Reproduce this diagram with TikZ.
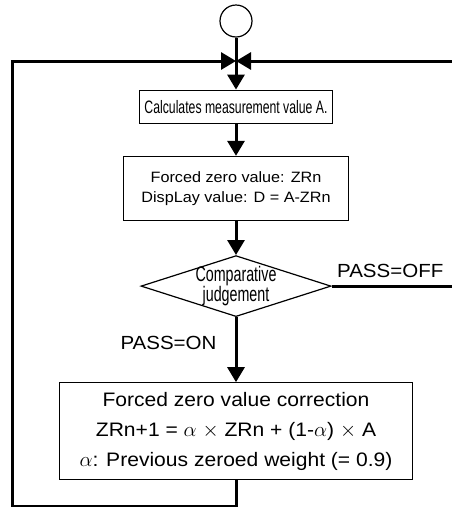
\documentclass[tikz,border=0pt]{standalone}
\usepackage{fontspec}
\setmainfont[FakeStretch=1.08]{Liberation Sans}
\newfontfamily\narrowfont[FakeStretch=0.68]{Liberation Sans}
\usetikzlibrary{arrows.meta,positioning,shapes.geometric}

\begin{document}
\begin{tikzpicture}[
    x=1pt, y=-1pt,
    flow/.style={line width=3pt, -{Triangle[length=15pt,width=17pt]}},
    wire/.style={line width=3pt},
    process/.style={draw, line width=1.2pt, align=center, inner sep=2pt},
    decision/.style={draw, diamond, aspect=3.1, line width=1.2pt, align=center, inner sep=-4pt,
        minimum width=190pt, minimum height=61pt},
    passtext/.style={font=\fontsize{19}{22}\selectfont, inner sep=4pt}
]
\useasboundingbox (0,0) rectangle (452,507);

% Start
\node[draw, circle, line width=1.2pt, minimum size=32pt, inner sep=0pt] (start) at (236,21) {};
\coordinate (join) at (236,61);
\coordinate (rightedge) at (452,0);
\coordinate (loopcorner) at (12,506);

% Measurement
\node[process, minimum width=193pt, minimum height=33pt, below=52pt of start,
    font=\narrowfont\fontsize{18}{20}\selectfont] (measure) {Calculates measurement value A.};

% Display value
\node[process, minimum width=225pt, minimum height=64pt, below=32pt of measure,
    font=\fontsize{15}{20}\selectfont] (display) {Forced zero value: ZRn\\DispLay value: D = A-ZRn};

% Judgement
\node[decision, below=34pt of display,
    font=\narrowfont\fontsize{21}{20}\selectfont] (judge) {Comparative\\judgement};

% Correction
\node[process, minimum width=353pt, minimum height=97pt, below=65pt of judge,
    font=\fontsize{19.5}{30}\selectfont] (correct) {Forced zero value correction\\
    ZRn+1 = $\alpha$ $\times$ ZRn + (1-$\alpha$) $\times$ A\\
    $\alpha$: Previous zeroed weight (= 0.9)};

% Connections
\draw[flow] (start) -- (measure);
\draw[flow] (measure) -- (display);
\draw[flow] (display) -- (judge);
\draw[flow] (judge) -- node[passtext, left=14pt, pos=0.4] {PASS=ON} (correct);
\draw[wire] (judge.east) -- node[passtext, pos=0, anchor=south west, yshift=3pt] {PASS=OFF} (judge.east -| rightedge);

% Loop back
\draw[flow] (correct.south) |- (loopcorner) |- (join);
\draw[flow] (rightedge |- join) -- (join);

\end{tikzpicture}
\end{document}
